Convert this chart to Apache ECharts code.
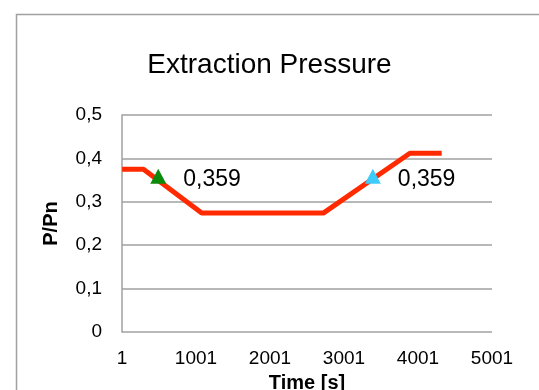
<!DOCTYPE html>
<html>
<head>
<meta charset="utf-8">
<title>Extraction Pressure</title>
<script src="https://cdn.jsdelivr.net/npm/echarts@6/dist/echarts.min.js"></script>
<style>
  html, body { margin: 0; padding: 0; background: #fff; }
  #main { width: 539px; height: 390px; }
</style>
</head>
<body>
<div id="main"></div>
<script>
// pressure curve, time [s] vs P/Pn
var timeData = [1, 290, 1077, 2720, 3890, 4320]
var pressureData = [0.375, 0.375, 0.274, 0.274, 0.412, 0.412]

// the two marked points
var markTimes = [490, 3390]
var markValues = [0.359, 0.359]
var markColors = ['#0c8a0c', '#3fcbfa']

var xTickLabels = ['1', '1001', '2001', '3001', '4001', '5001']
var yTickLabels = ['0', '0,1', '0,2', '0,3', '0,4', '0,5']

var font = 'Helvetica, Arial, "Liberation Sans", sans-serif'

var lineSeries = timeData.map(function (t, i) { return [t, pressureData[i]] })

var markSeries = markTimes.map(function (t, i) {
    return {
        type: 'scatter',
        data: [[t, markValues[i]]],
        symbol: 'triangle',
        symbolSize: [16, 15],
        itemStyle: { color: markColors[i], opacity: 1 },
        label: {
            show: true,
            position: 'right',
            distance: 17,
            offset: [0, 3],
            color: '#000',
            fontSize: 23,
            fontFamily: font,
            formatter: function (p) { return String(p.value[1]).replace('.', ',') }
        },
        z: 5
    }
})

var option = {
    animation: false,
    backgroundColor: '#fff',
    graphic: [{
        type: 'rect',
        left: 14, top: 12,
        shape: { width: 600, height: 420 },
        style: { fill: 'none', stroke: '#a0a0a0', lineWidth: 1.5 },
        silent: true
    }],
    title: {
        text: 'Extraction Pressure',
        left: 'center',
        top: 46,
        textStyle: { fontSize: 28, fontWeight: 'normal', color: '#000', fontFamily: font }
    },
    grid: { left: 122, top: 115, right: 47, bottom: 58, containLabel: false, outerBoundsMode: 'none' },
    xAxis: {
        type: 'value',
        min: 0, max: 5000, interval: 1000,
        name: 'Time [s]',
        nameLocation: 'middle',
        nameGap: 41,
        nameTextStyle: { fontSize: 20, fontWeight: 'bold', color: '#000', fontFamily: font },
        axisLine: { show: false },
        axisTick: { show: false },
        splitLine: { show: false },
        axisLabel: {
            margin: 17,
            fontSize: 19, color: '#000', fontFamily: font,
            formatter: function (v) { return xTickLabels[Math.round(v / 1000)] }
        }
    },
    yAxis: {
        type: 'value',
        min: 0, max: 0.5, interval: 0.1,
        name: 'P/Pn',
        nameLocation: 'middle',
        nameGap: 61,
        nameTextStyle: { fontSize: 20, fontWeight: 'bold', color: '#000', fontFamily: font },
        axisLine: { show: true, lineStyle: { color: '#a0a0a0', width: 1.5 } },
        axisTick: { show: false },
        splitLine: { show: true, lineStyle: { color: '#a0a0a0', width: 1.5 } },
        axisLabel: {
            margin: 20,
            fontSize: 19, color: '#000', fontFamily: font,
            formatter: function (v) { return yTickLabels[Math.round(v * 10)] }
        }
    },
    series: [{
        type: 'line',
        data: lineSeries,
        showSymbol: false,
        lineStyle: { color: '#ff2a00', width: 5 },
        z: 3
    }].concat(markSeries)
}

var myChart = echarts.init(document.getElementById('main'))
myChart.setOption(option)
</script>
</body>
</html>
